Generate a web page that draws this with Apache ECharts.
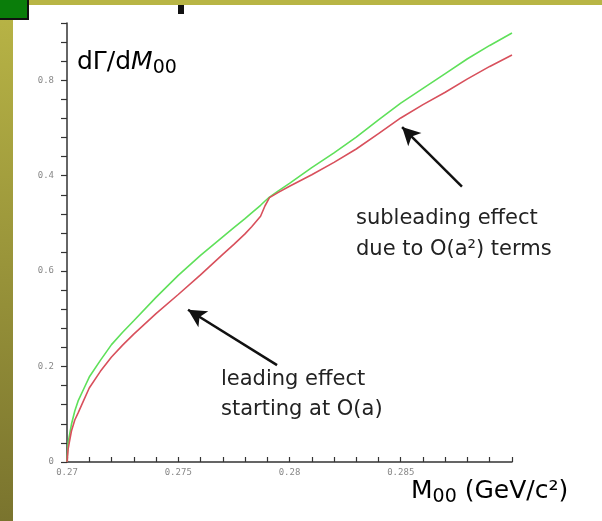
<!DOCTYPE html>
<html>
<head>
<meta charset="utf-8">
<script src="https://cdn.jsdelivr.net/npm/echarts@6/dist/echarts.min.js"></script>
<style>
  html, body { margin: 0; padding: 0; background: #fff; }
  #chart { width: 602px; height: 521px; }
</style>
</head>
<body>
<div id="chart"></div>
<script>
// invariant mass M00 (GeV/c^2)
var massValues = [0.27, 0.27005, 0.2701, 0.2702, 0.27035, 0.2705, 0.27075, 0.271, 0.2715, 0.272,
    0.2725, 0.273, 0.274, 0.275, 0.276, 0.277, 0.2775, 0.278, 0.2783, 0.2785,
    0.2787, 0.2789, 0.2791, 0.2795, 0.28, 0.281, 0.282, 0.283, 0.284, 0.285,
    0.286, 0.287, 0.288, 0.289, 0.29];
// green curve
var greenRate = [0, 0.040, 0.053, 0.079, 0.107, 0.128, 0.153, 0.178, 0.213, 0.246,
    0.272, 0.296, 0.345, 0.391, 0.433, 0.472, 0.491, 0.510, 0.522, 0.530,
    0.538, 0.547, 0.555, 0.568, 0.584, 0.617, 0.648, 0.681, 0.717, 0.752,
    0.783, 0.814, 0.845, 0.873, 0.899];
// red curve
var redRate = [0, 0.027, 0.040, 0.065, 0.088, 0.103, 0.129, 0.155, 0.190, 0.220,
    0.245, 0.268, 0.311, 0.351, 0.392, 0.435, 0.456, 0.478, 0.493, 0.504,
    0.515, 0.537, 0.554, 0.565, 0.578, 0.602, 0.628, 0.656, 0.688, 0.721,
    0.749, 0.775, 0.803, 0.829, 0.853];

// tick labels as printed on the original plot
var xTickLabels = ['0.27', '0.275', '0.28', '0.285'];
var yTickLabels = ['0', '0.2', '0.6', '0.4', '0.8'];

// annotation arrows: [tail, tip]
var leadingArrow = [[0.27944, 0.203], [0.27544, 0.319]];
var subleadingArrow = [[0.28775, 0.577], [0.28506, 0.702]];

function pairs(xs, ys) {
    return xs.map(function (x, i) { return [x, ys[i]]; });
}

var myChart = echarts.init(document.getElementById('chart'));

var textFont = '"DejaVu Sans", sans-serif';
var labelRich = {
    r: { fontSize: 25, fontFamily: textFont, color: '#222', lineHeight: 30 },
    i: { fontSize: 25, fontFamily: textFont, fontStyle: 'italic', color: '#222', lineHeight: 30 },
    s: { fontSize: 19, fontFamily: textFont, color: '#222', lineHeight: 19, padding: [12, 0, 0, 0] }
};

var option = {
    animation: false,
    backgroundColor: '#fff',
    grid: { left: 67, right: 90, top: 23, bottom: 59 },
    graphic: [
        {
            type: 'rect', left: 0, top: 0, z: -1,
            shape: { width: 13, height: 521 },
            style: {
                fill: new echarts.graphic.LinearGradient(0, 0, 0, 1, [
                    { offset: 0, color: '#b9b546' },
                    { offset: 1, color: '#7a742e' }
                ])
            }
        },
        {
            type: 'rect', left: 0, top: 0, z: -1,
            shape: { width: 602, height: 5 },
            style: { fill: '#b8b545' }
        },
        {
            type: 'rect', left: 0, top: 0,
            shape: { width: 29, height: 20 },
            style: { fill: '#111' }
        },
        {
            type: 'rect', left: 0, top: 0,
            shape: { width: 27, height: 18 },
            style: { fill: '#0a7d0a' }
        },
        {
            type: 'rect', left: 178, top: 5,
            shape: { width: 6, height: 9 },
            style: { fill: '#111' }
        },
        {
            type: 'text', left: 77, top: 47,
            style: { text: '{r|dΓ/d}{i|M}{s|00}', rich: labelRich }
        },
        {
            type: 'text', left: 411, top: 476,
            style: { text: '{r|M}{s|00}{r| (GeV/c²)}', rich: labelRich }
        },
        {
            type: 'text', left: 356, top: 203,
            style: {
                text: 'subleading effect\ndue to O(a²) terms',
                font: '21px ' + textFont, fill: '#222', lineHeight: 31
            }
        },
        {
            type: 'text', left: 221, top: 365,
            style: {
                text: 'leading effect\nstarting at O(a)',
                font: '21px ' + textFont, fill: '#222', lineHeight: 30
            }
        }
    ],
    xAxis: {
        type: 'value',
        min: 0.27,
        max: 0.29,
        interval: 0.001,
        axisLine: { lineStyle: { color: '#333', width: 1.5 } },
        axisTick: { inside: true, length: 5, lineStyle: { color: '#333', width: 1.2 } },
        axisLabel: {
            margin: 6,
            color: '#888',
            fontFamily: '"DejaVu Sans Mono", monospace',
            fontSize: 9,
            formatter: function (v) {
                var idx = Math.round((v - 0.27) / 0.001);
                if (idx % 5 === 0 && idx / 5 < xTickLabels.length) return xTickLabels[idx / 5];
                return '';
            }
        },
        splitLine: { show: false }
    },
    yAxis: {
        type: 'value',
        min: 0,
        max: 0.92,
        interval: 0.04,
        axisLine: { show: true, lineStyle: { color: '#333', width: 1.5 } },
        axisTick: { show: true, length: 6, lineStyle: { color: '#333', width: 1.2 } },
        axisLabel: {
            margin: 13,
            color: '#888',
            fontFamily: '"DejaVu Sans Mono", monospace',
            fontSize: 9,
            formatter: function (v) {
                var idx = Math.round(v / 0.04);
                if (idx % 5 === 0 && idx / 5 < yTickLabels.length) return yTickLabels[idx / 5];
                return '';
            }
        },
        splitLine: { show: false }
    },
    series: [
        {
            type: 'line',
            data: pairs(massValues, redRate),
            showSymbol: false,
            lineStyle: { color: '#d8505c', width: 1.6 },
            z: 3,
            markLine: {
                silent: true,
                symbol: ['none', 'arrow'],
                symbolSize: [14, 18],
                label: { show: false },
                lineStyle: { color: '#111', width: 2.5, type: 'solid' },
                data: [
                    [{ coord: leadingArrow[0] }, { coord: leadingArrow[1] }],
                    [{ coord: subleadingArrow[0] }, { coord: subleadingArrow[1] }]
                ]
            }
        },
        {
            type: 'line',
            data: pairs(massValues, greenRate),
            showSymbol: false,
            lineStyle: { color: '#5fe05a', width: 1.6 },
            z: 2
        }
    ]
};

myChart.setOption(option);
</script>
</body>
</html>
